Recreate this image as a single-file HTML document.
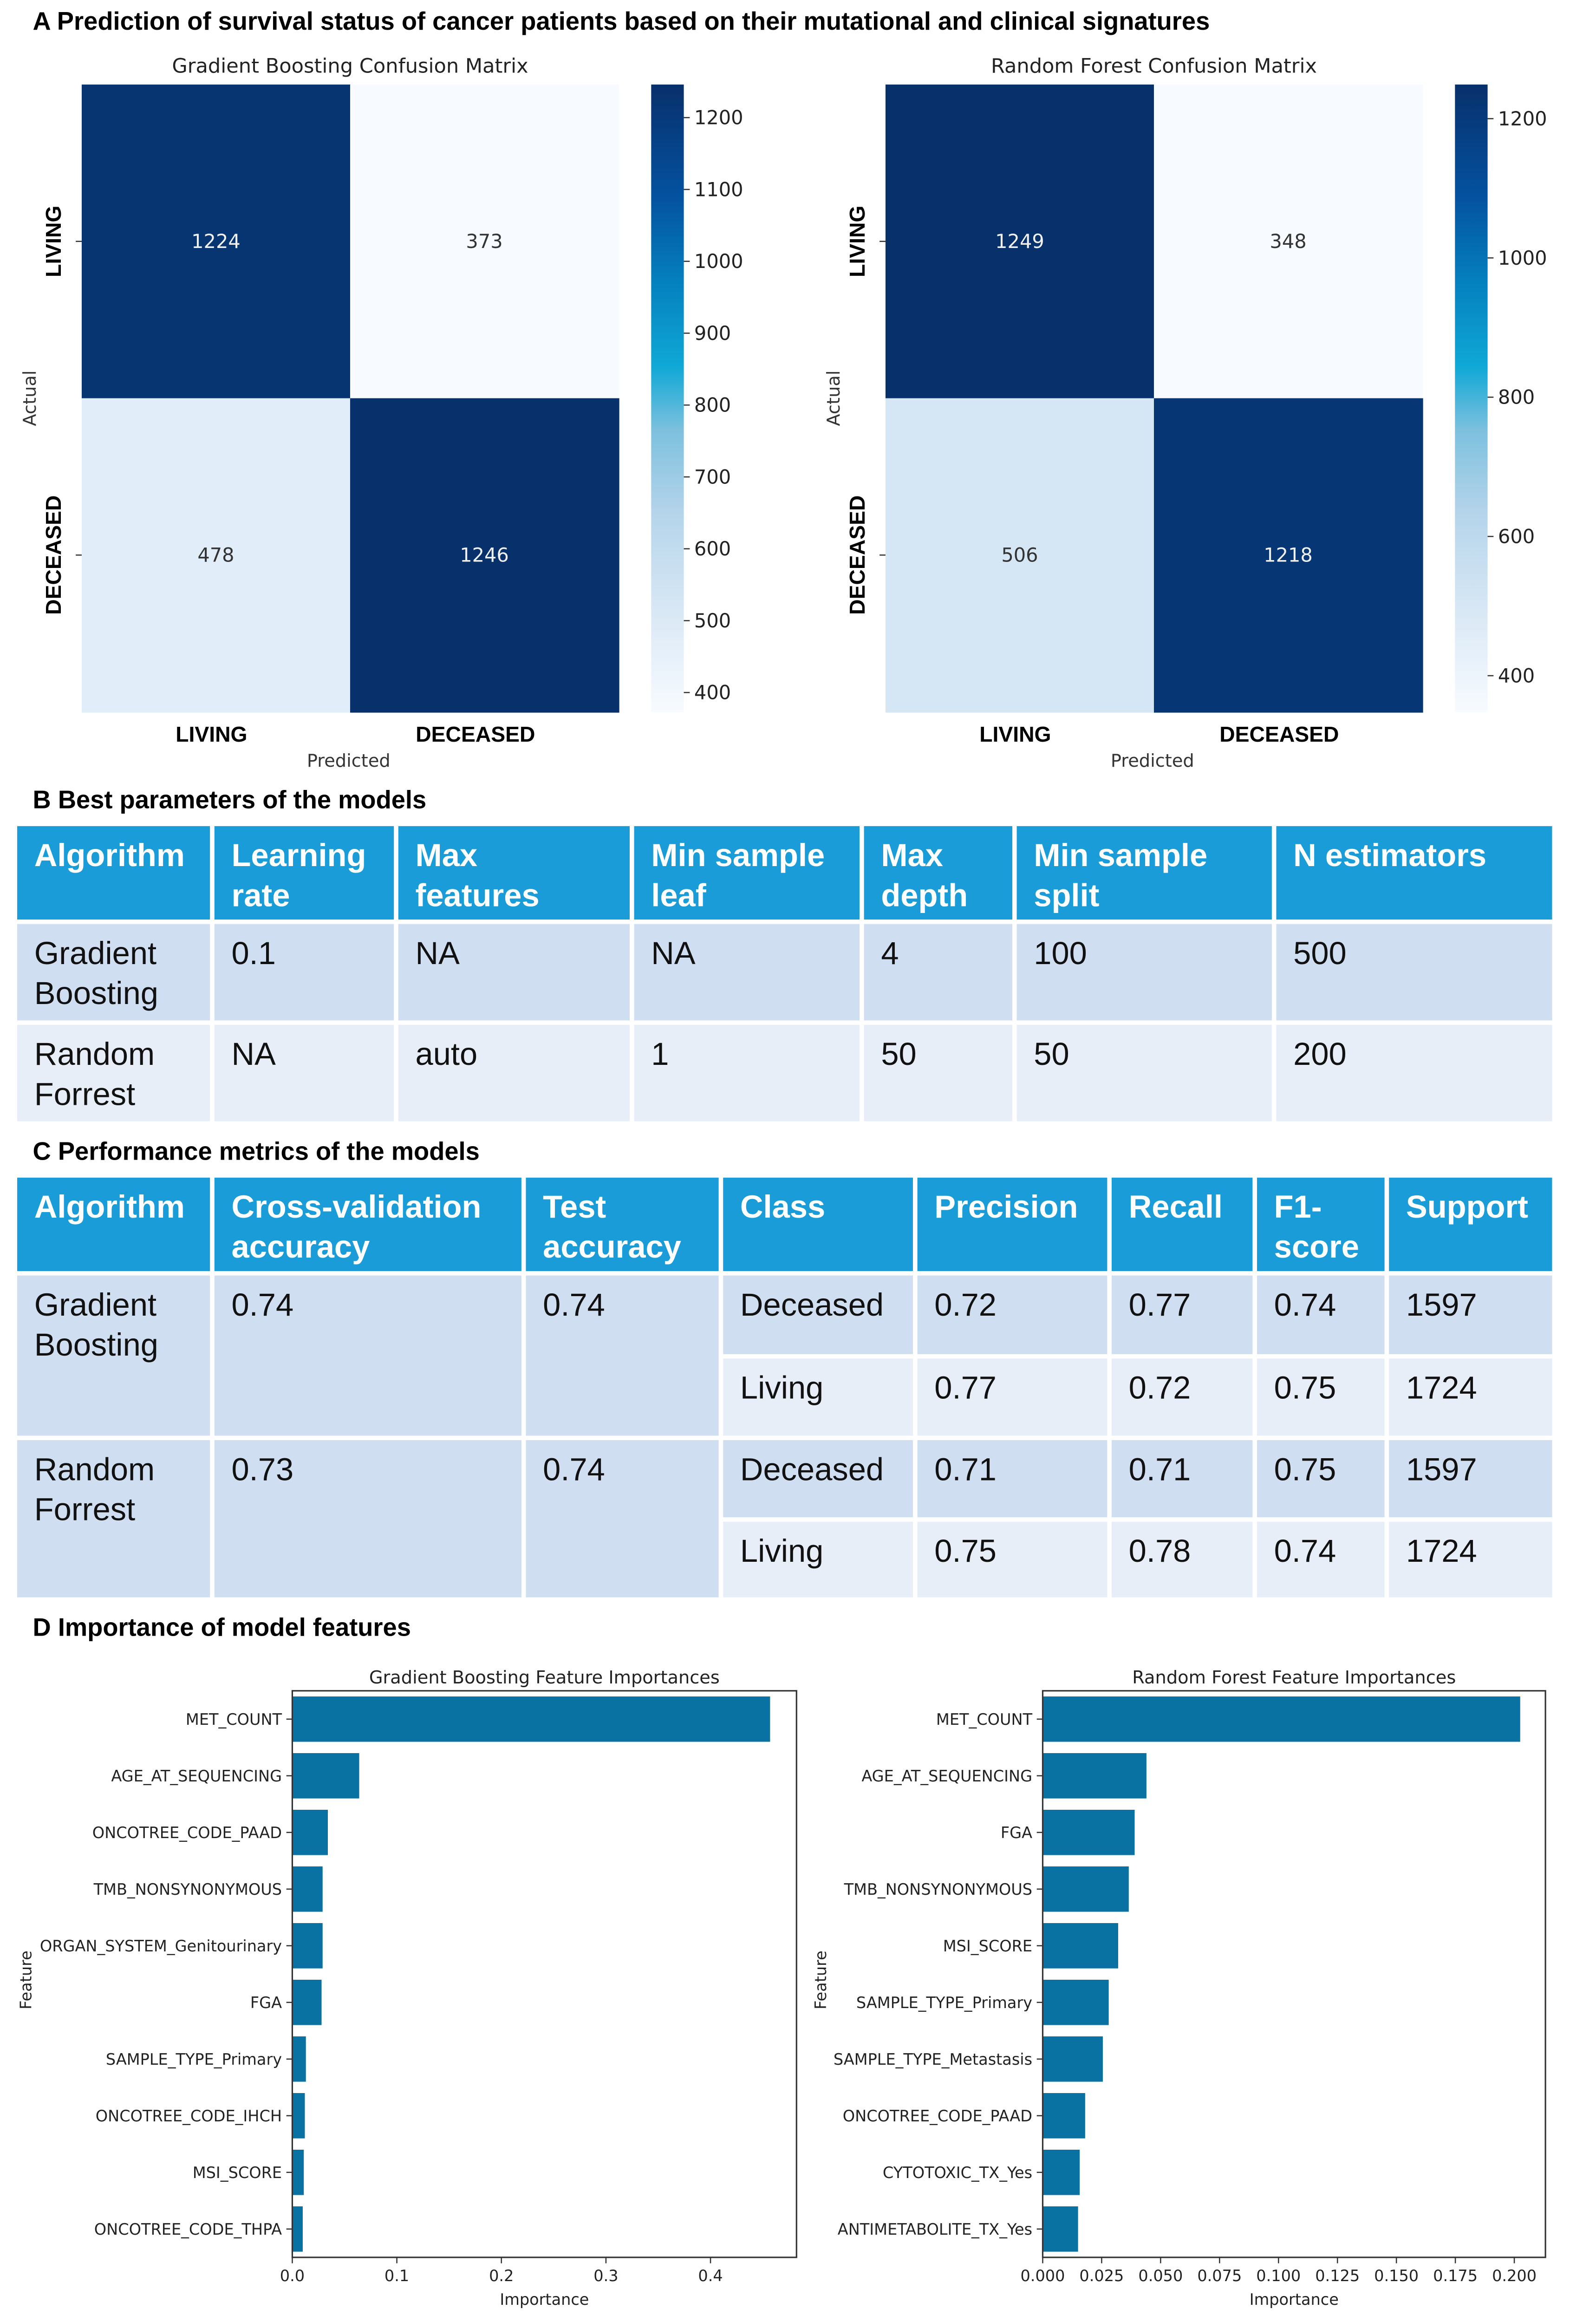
<!DOCTYPE html>
<html><head><meta charset="utf-8">
<style>
html,body{margin:0;padding:0;background:#fff;width:3437px;height:5062px;overflow:hidden;}
#fig{display:block;}
</style></head>
<body>
<svg id="fig" xmlns="http://www.w3.org/2000/svg" width="3437" height="5062" viewBox="0 0 1076 1585">
<defs>
<linearGradient id="blues" x1="0" y1="1" x2="0" y2="0">
<stop offset="0" stop-color="#f7fbff"/>
<stop offset="0.15" stop-color="#dbe9f6"/>
<stop offset="0.32" stop-color="#b4d4ea"/>
<stop offset="0.45" stop-color="#7cc0de"/>
<stop offset="0.55" stop-color="#10a8d6"/>
<stop offset="0.68" stop-color="#0582c0"/>
<stop offset="0.82" stop-color="#0452a0"/>
<stop offset="1" stop-color="#08306b"/>
</linearGradient>
</defs>
<rect x="0" y="0" width="1076" height="1585" fill="#fff"/>
<g id="root"></g>
</svg>
<script>
// ---------- DATA ----------
const cmCats = ["LIVING","DECEASED"];
const gbMatrix = [[1224,373],[478,1246]];
const rfMatrix = [[1249,348],[506,1218]];
const gbCbTicks = [400,500,600,700,800,900,1000,1100,1200];
const rfCbTicks = [400,600,800,1000,1200];

const gbFeatures = ["MET_COUNT","AGE_AT_SEQUENCING","ONCOTREE_CODE_PAAD","TMB_NONSYNONYMOUS","ORGAN_SYSTEM_Genitourinary","FGA","SAMPLE_TYPE_Primary","ONCOTREE_CODE_IHCH","MSI_SCORE","ONCOTREE_CODE_THPA"];
const gbImportance = [0.457,0.064,0.034,0.029,0.029,0.028,0.013,0.012,0.011,0.010];
const gbTicks = [0.0,0.1,0.2,0.3,0.4];
const gbTickLabels = ["0.0","0.1","0.2","0.3","0.4"];

const rfFeatures = ["MET_COUNT","AGE_AT_SEQUENCING","FGA","TMB_NONSYNONYMOUS","MSI_SCORE","SAMPLE_TYPE_Primary","SAMPLE_TYPE_Metastasis","ONCOTREE_CODE_PAAD","CYTOTOXIC_TX_Yes","ANTIMETABOLITE_TX_Yes"];
const rfImportance = [0.2025,0.044,0.039,0.0365,0.032,0.028,0.0255,0.018,0.0157,0.015];
const rfTicks = [0,0.025,0.05,0.075,0.1,0.125,0.15,0.175,0.2];
const rfTickLabels = ["0.000","0.025","0.050","0.075","0.100","0.125","0.150","0.175","0.200"];

const tableBHeader = [["Algorithm"],["Learning","rate"],["Max","features"],["Min sample","leaf"],["Max","depth"],["Min sample","split"],["N estimators"]];
const tableBRows = [
 [["Gradient","Boosting"],["0.1"],["NA"],["NA"],["4"],["100"],["500"]],
 [["Random","Forrest"],["NA"],["auto"],["1"],["50"],["50"],["200"]]
];
const tableCHeader = [["Algorithm"],["Cross-validation","accuracy"],["Test","accuracy"],["Class"],["Precision"],["Recall"],["F1-","score"],["Support"]];
const tableCModels = [["Gradient","Boosting"],["Random","Forrest"]];
const tableCCv = ["0.74","0.73"];
const tableCTest = ["0.74","0.74"];
const tableCClass = [["Deceased","0.72","0.77","0.74","1597"],["Living","0.77","0.72","0.75","1724"],["Deceased","0.71","0.71","0.75","1597"],["Living","0.75","0.78","0.74","1724"]];

// ---------- HELPERS ----------
const NS="http://www.w3.org/2000/svg";
const root=document.getElementById('root');
function mk(tag,attrs,parent){const e=document.createElementNS(NS,tag);for(const k in attrs)e.setAttribute(k,attrs[k]);(parent||root).appendChild(e);return e;}
function txt(str,attrs,parent){const e=mk('text',attrs,parent);e.textContent=str;return e;}
const DV='"DejaVu Sans", sans-serif';
const LS='"Liberation Sans", Arial, sans-serif';

const stops=[[0,[247,251,255]],[0.15,[219,233,246]],[0.32,[180,212,234]],[0.45,[124,192,222]],[0.55,[16,168,214]],[0.68,[5,130,192]],[0.82,[4,82,160]],[1,[8,48,107]]];
function cmap(t){t=Math.max(0,Math.min(1,t));for(let i=1;i<stops.length;i++){if(t<=stops[i][0]){const a=stops[i-1],b=stops[i];const f=(t-a[0])/(b[0]-a[0]);const c=a[1].map((v,j)=>Math.round(v+(b[1][j]-v)*f));return 'rgb('+c.join(',')+')';}}return 'rgb(8,48,107)';}

// ---------- TITLES ----------
let el;
el=txt("A Prediction of survival status of cancer patients based on their mutational and clinical signatures",{x:22,y:20,'font-family':LS,'font-weight':'bold','font-size':17});

el=txt("B Best parameters of the models",{x:22,y:545,'font-family':LS,'font-weight':'bold','font-size':17});

el=txt("C Performance metrics of the models",{x:22,y:782,'font-family':LS,'font-weight':'bold','font-size':17});

el=txt("D Importance of model features",{x:22,y:1103,'font-family':LS,'font-weight':'bold','font-size':17});


// ---------- CONFUSION MATRICES ----------
function heatmap(name,title,matrix,ticks,x0,cbx){
  const g=mk('g',{});
  
  
  const y0=57,W=362,H=423;
  const flat=matrix.flat();const vmin=Math.min(...flat),vmax=Math.max(...flat);
  const cw=W/cmCats.length,ch=H/cmCats.length;
  let t=txt(title,{x:x0+W/2,y:49,'text-anchor':'middle','font-family':DV,'font-size':13.5,fill:'#222'},g);
  
  matrix.forEach((row,r)=>row.forEach((v,c)=>{
    const n=(v-vmin)/(vmax-vmin);
    const rc=mk('rect',{x:x0+c*cw,y:y0+r*ch,width:cw+0.5,height:ch+0.5,fill:cmap(n)},g);
    
    
    const lt=txt(String(v),{x:x0+c*cw+cw/2,y:y0+r*ch+ch/2+4.5,'text-anchor':'middle','font-family':DV,'font-size':13,fill:n>0.5?'#f0f0f0':'#333'},g);
    
    
  }));
  cmCats.forEach((c,i)=>{
    const cy=y0+i*ch+ch/2;
    mk('line',{x1:x0-4,y1:cy,x2:x0,y2:cy,stroke:'#333','stroke-width':0.8},g);
    const yl=txt(c,{x:0,y:0,transform:`translate(${x0-14},${cy}) rotate(-90)`,'text-anchor':'middle','font-family':LS,'font-weight':'bold','font-size':14.5},g);
    
    
    const cx=x0+i*cw+cw/2;
    const xl=txt(c,{x:cx-3-3*i,y:500,'text-anchor':'middle','font-family':LS,'font-weight':'bold','font-size':14.5},g);
    
    
  });
  let a=txt("Actual",{x:0,y:0,transform:`translate(${x0-31},${y0+H/2}) rotate(-90)`,'text-anchor':'middle','font-family':DV,'font-size':12,fill:'#333'},g);
  
  a=txt("Predicted",{x:x0+W/2-1,y:517,'text-anchor':'middle','font-family':DV,'font-size':12,fill:'#333'},g);
  
  const cb=mk('rect',{x:cbx,y:y0,width:22,height:H,fill:'url(#blues)'},g);
  
  
  ticks.forEach(tv=>{
    const ty=y0+H-(tv-vmin)/(vmax-vmin)*H;
    mk('line',{x1:cbx+22,y1:ty,x2:cbx+26,y2:ty,stroke:'#333','stroke-width':0.8},g);
    const tl=txt(String(tv),{x:cbx+29,y:ty+4.5,'font-family':DV,'font-size':13,fill:'#222'},g);
    
    
  });
}
heatmap('gb-confusion-matrix','Gradient Boosting Confusion Matrix',gbMatrix,gbCbTicks,55,439);
heatmap('rf-confusion-matrix','Random Forest Confusion Matrix',rfMatrix,rfCbTicks,597,981);

// ---------- TABLES ----------
const HDR='#1a9cd8',DARK='#cfdef0',LIGHT='#e8eef8';
function cell(parent,x1,x2,y1,y2,fill,lines,bold,name){
  const r=mk('rect',{x:x1+1.5,y:y1,width:x2-x1-3,height:y2-y1,fill:fill},parent);
  
  
  lines.forEach((l,i)=>{
    const t=txt(l,{x:x1+13,y:y1+27+i*27,'font-family':LS,'font-size':21.5,'font-weight':bold?'bold':'normal',fill:bold?'#fff':'#111'},parent);
    
    
  });
}
const tB=mk('g',{});


const colB=[10,143,267,426,581,684,859,1048];
tableBHeader.forEach((h,i)=>cell(tB,colB[i],colB[i+1],557,620,HDR,h,true,'table-header-cell'));
const rowB=[[623,688,DARK],[691,756,LIGHT]];
tableBRows.forEach((row,r)=>row.forEach((v,i)=>cell(tB,colB[i],colB[i+1],rowB[r][0],rowB[r][1],rowB[r][2],v,false,'table-cell')));

const tC=mk('g',{});


const colC=[10,143,353,486,617,748,846,935,1048];
tableCHeader.forEach((h,i)=>cell(tC,colC[i],colC[i+1],794,857,HDR,h,true,'table-header-cell'));
const rowC=[[860,913,DARK],[916,968,LIGHT],[971,1023,DARK],[1026,1077,LIGHT]];
tableCModels.forEach((m,k)=>{
  const y1=rowC[k*2][0],y2=rowC[k*2+1][1];
  cell(tC,colC[0],colC[1],y1,y2,DARK,m,false,'model-name-cell');
  cell(tC,colC[1],colC[2],y1,y2,DARK,[tableCCv[k]],false,'cv-accuracy-cell');
  cell(tC,colC[2],colC[3],y1,y2,DARK,[tableCTest[k]],false,'test-accuracy-cell');
});
tableCClass.forEach((row,r)=>row.forEach((v,i)=>cell(tC,colC[i+3],colC[i+4],rowC[r][0],rowC[r][1],rowC[r][2],[v],false,'table-cell')));

// ---------- BAR CHARTS ----------
function barChart(name,title,feats,vals,ticks,tickLabels,x0,x1,pxPerUnit){
  const g=mk('g',{});
  
  
  const y0=1140,y1=1522;
  const xs=v=>x0+v*pxPerUnit;
  const step=(y1-y0)/feats.length;
  const ys=i=>y0+step*(i+0.5);
  const bh=step*0.8;
  vals.forEach((v,i)=>{
    const b=mk('rect',{x:xs(0),y:ys(i)-bh/2,width:xs(v)-xs(0),height:bh,fill:'#0a72a3'},g);
    
    
    mk('line',{x1:x0-4,y1:ys(i),x2:x0,y2:ys(i),stroke:'#333','stroke-width':0.8},g);
    const l=txt(feats[i],{x:x0-7,y:ys(i)+3.8,'text-anchor':'end','font-family':DV,'font-size':10.5,fill:'#222'},g);
    
    
  });
  const fr=mk('rect',{x:x0,y:y0,width:x1-x0,height:y1-y0,fill:'none',stroke:'#333','stroke-width':1},g);
  
  
  ticks.forEach((t,i)=>{
    mk('line',{x1:xs(t),y1:y1,x2:xs(t),y2:y1+4,stroke:'#333','stroke-width':0.8},g);
    const l=txt(tickLabels[i],{x:xs(t),y:y1+16,'text-anchor':'middle','font-family':DV,'font-size':10.5,fill:'#222'},g);
    
    
  });
  let t=txt(title,{x:(x0+x1)/2,y:1135,'text-anchor':'middle','font-family':DV,'font-size':12,fill:'#222'},g);
  
  t=txt("Importance",{x:(x0+x1)/2,y:1554,'text-anchor':'middle','font-family':DV,'font-size':10.5,fill:'#222'},g);
  
}
barChart('gb-feature-importance-chart','Gradient Boosting Feature Importances',gbFeatures,gbImportance,gbTicks,gbTickLabels,197,537,705);
barChart('rf-feature-importance-chart','Random Forest Feature Importances',rfFeatures,rfImportance,rfTicks,rfTickLabels,703,1042,1590);
el=txt("Feature",{x:0,y:0,transform:'translate(21,1335) rotate(-90)','text-anchor':'middle','font-family':DV,'font-size':10.5,fill:'#222'});

el=txt("Feature",{x:0,y:0,transform:'translate(557,1335) rotate(-90)','text-anchor':'middle','font-family':DV,'font-size':10.5,fill:'#222'});

</script>
</body></html>
